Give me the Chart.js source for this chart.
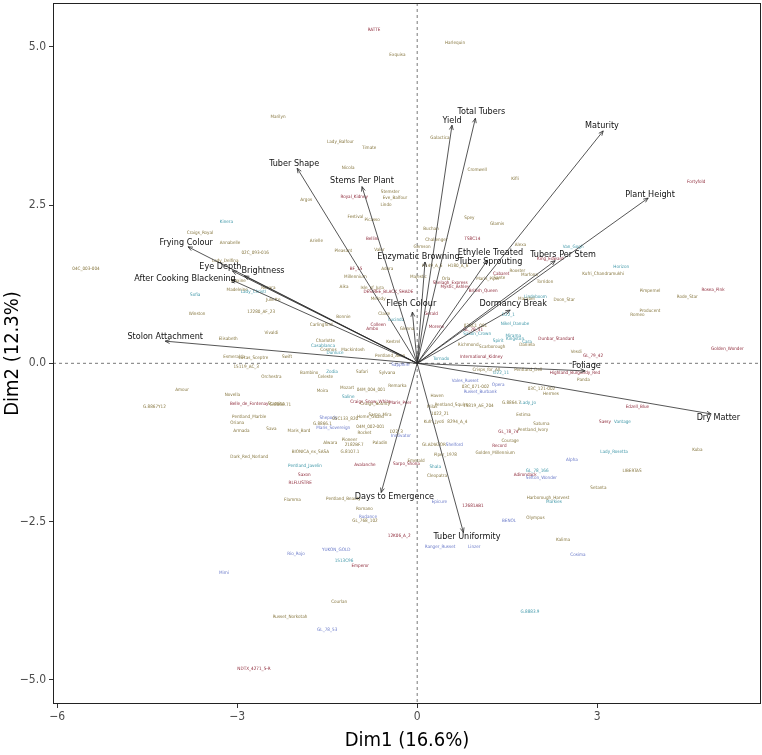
<!DOCTYPE html>
<html>
<head>
<meta charset="utf-8">
<script src="https://cdn.jsdelivr.net/npm/chart.js@4"></script>
<style>
html,body{margin:0;padding:0;background:#fff}
canvas{display:block}
</style>
</head>
<body>
<canvas id="pca" width="762" height="755"></canvas>
<script>
// variable loadings (arrows)
const varNames=['Maturity','Plant Height','Total Tubers','Yield','Tuber Shape','Stems Per Plant','Frying Colour','Eye Depth','Brightness','After Cooking Blackening','Stolon Attachment','Enzymatic Browning','Ethylele Treated\nTuber Sprouting','Tubers Per Stem','Dormancy Break','Flesh Colour','Foliage','Dry Matter','Days to Emergence','Tuber Uniformity'];
const varX=[3.10,3.85,0.97,0.58,-2.00,-0.92,-3.82,-3.08,-2.88,-3.10,-4.20,0.13,1.17,2.30,1.55,-0.08,2.80,4.90,-0.60,0.77];
const varY=[3.67,2.61,3.87,3.76,3.08,2.79,1.84,1.46,1.38,1.32,0.35,1.60,1.63,1.62,0.84,0.81,-0.12,-0.80,-2.04,-2.67];
const varLabelX=[3.08,3.88,1.07,0.58,-2.05,-0.92,-3.85,-3.28,-2.57,-3.87,-4.20,0.02,1.22,2.43,1.60,-0.10,2.82,5.02,-0.38,0.83];
const varLabelY=[3.75,2.67,3.97,3.83,3.16,2.88,1.90,1.52,1.47,1.33,0.42,1.69,1.67,1.72,0.95,0.94,-0.03,-0.86,-2.11,-2.74];

// individuals (varieties): name, Dim1, Dim2, group
const indNames=['RATTE','Harlequin','Exquisa','Marilyn','Lady_Balfour','Timate','Galactica','Cromwell','Nicola','Kifli','Fortyfold','Argos','Royal_Kidney','Stemster','Eve_Balfour','Lindo','Festival','Picasso','Kinera','Spey','Glamis','Buchan','Craigs_Royal','Bellini','TS8C14','Challenger','Arielle','Annabelle','Alexa','Van_Gogh','Gemson','Pleasant','Valor','02C_093-016','King_Edward','Lady_Delfina','04C_003-004','H149_A_6','H180_A_6','Horizon','BF_15','Adora','Rooster','Cabaret','Kufri_Chandramukhi','Marfona','Millennium','Majestic','Sante','Maris_Piper','Orla','Maxine','Torridon','Shelagh_Express','Aika','Mystic_Ashley','Rosara','Isle_of_Jura','Madeleine','Pimpernel','British_Queen','Lady_Christl','DESIREE_BLACK_SHADE','Sofia','Rosea_Pink','Rode_Star','Lindeboom','Doon_Star','Juliette','Melody','Marabel','Producent','Winston','12280_AF_23','Romeo','Claire','Gerald','D22_1','Bonnie','Lucinda','Nikel_Danube','Carlingford','Colleen','03BC1_001','Glenna','Morene','Ambo','GL_78_31','Vivaldi','Saxon_Crown','Mirama','Dunbar_Standard','Elisabeth','Kingston','Charlotte','Spirit','Kestrel','Cara','Richmond','Daniela','Casablanca','Scarborough','Golden_Wonder','Cosmos','Mackintosh','Vesdi','Dunluce','GL_79_42','Pentland_Avon','Swift','International_Kidney','Esmeralda','Lucas_Sceptre','Tornado','Sapphire','15119_AC_3','Pentland_Dell','Crisps_for_All','Safari','Zodia','Bambino','Sylvana','Highland_Burgundy_Red','D22_11','Celeste','Orchestra','Panda','Vales_Russet','Opera','Remarka','03C_071-002','Mozart','03C_121-002','Amour','04M_004_001','Moira','Russet_Burbank','Hermes','Novella','Haven','Saline','Craigs_Snow_White','Maris_Peer','G.8864.7','Lady_Jo','Craigs_Bounty','Belle_de_Fontenay','Stamina','G.8866.71','Pentland_Squire','15819_AE_204','G.8867Y12','Edzell_Blue','Milas','1022_21','Estima','Sarpo_Mira','Pentland_Marble','Home_Guard','Shepody','05C133_820','Kufri_Jyoti','8294_A_4','Sassy','Vantage','Oriana','Saturna','G.8866.1','04M_002-001','Maris_Sovereign','Sava','Pentland_Ivory','Maris_Bard','Armada','D22_3','GL_78_74','Rocket','Innovator','Pioneer','Courage','Alwara','Paladin','2182BF.7','GLADIATOR','Shelford','Record','Kuba','G.8107.1','BIONICA_ex_SASA','Lady_Rosetta','Golden_Millennium','Piper_1978','Dark_Red_Norland','Alpha','Emerald','Sarpo_Shona','Avalanche','Pentland_Javelin','Shala','LIBERTAS','GL_78_166','Adirondack','Saxon','Cleopatra','Sefton_Wonder','RLFLUSTRE','Setanta','Harborough_Harvest','Pentland_Beauty','Flamma','Markies','Epicure','12681AB1','Romano','Olympus','Rudance','BENOL','GL_768_102','12K06_A_2','Kalima','Ranger_Russet','Linzer','YUKON_GOLD','Rio_Rojo','Cosima','1513C96','Emperor','Mimi','Courlan','G.8883.9','Russet_Norkotah','GL_78_53','NDTX_4271_5-R'];
const indX=[-0.72,0.63,-0.33,-2.32,-1.28,-0.80,0.38,1.00,-1.15,1.63,4.65,-1.85,-1.05,-0.45,-0.37,-0.52,-1.03,-0.75,-3.18,0.87,1.33,0.23,-3.62,-0.75,0.92,0.32,-1.68,-3.12,1.72,2.60,0.08,-1.23,-0.63,-2.70,2.22,-3.20,-5.52,0.25,0.68,3.40,-1.02,-0.50,1.67,1.40,3.10,1.87,-1.03,0.02,1.37,1.18,0.48,-2.98,2.13,0.55,-1.22,0.63,-2.48,-0.75,-3.00,3.88,1.10,-2.73,-0.48,-3.70,4.93,4.50,1.97,2.45,-2.40,-0.65,1.82,3.88,-3.67,-2.60,3.67,-0.55,0.23,1.52,-1.23,-0.35,1.63,-1.60,-0.65,0.97,-0.17,0.32,-0.75,0.93,-2.43,1.00,1.60,2.32,-3.15,1.63,-1.53,1.35,-0.40,1.83,0.85,1.83,-1.57,1.25,5.17,-1.48,-1.07,2.65,-1.37,2.93,-0.45,-2.17,1.07,-3.05,-2.73,0.40,-0.28,-2.85,1.85,1.15,-0.92,-1.42,-1.80,-0.50,2.63,1.40,-1.53,-2.43,2.77,0.80,1.35,-0.33,0.97,-1.17,2.07,-3.92,-0.77,-1.58,1.05,2.23,-3.08,0.33,-1.15,-0.78,-0.28,1.57,1.85,-0.70,-2.80,-2.35,-2.28,0.57,1.02,-4.38,3.67,0.25,0.38,1.77,-0.62,-2.80,-0.78,-1.48,-1.20,0.28,0.67,3.13,3.42,-3.00,2.07,-1.58,-0.78,-1.40,-2.43,1.93,-1.97,-2.93,-0.35,1.52,-0.88,-0.27,-1.13,1.55,-1.45,-0.62,-1.05,0.28,0.62,1.37,4.67,-1.12,-1.78,3.28,1.30,0.47,-2.80,2.58,-0.02,-0.18,-0.87,-1.87,0.30,3.58,2.00,1.80,-1.88,0.33,2.07,-1.95,3.02,2.18,-1.23,-2.08,2.28,0.37,0.93,-0.88,1.97,-0.82,1.53,-0.87,-0.30,2.43,0.38,0.95,-1.35,-2.02,2.68,-1.22,-0.95,-3.22,-1.30,1.88,-2.12,-1.50,-2.72];
const indY=[5.27,5.06,4.87,3.89,3.50,3.40,3.56,3.05,3.09,2.91,2.87,2.59,2.63,2.71,2.61,2.50,2.31,2.26,2.23,2.30,2.20,2.12,2.06,1.96,1.96,1.95,1.93,1.90,1.87,1.84,1.84,1.77,1.79,1.74,1.65,1.62,1.50,1.54,1.54,1.52,1.49,1.49,1.46,1.42,1.41,1.39,1.36,1.36,1.35,1.33,1.33,1.31,1.28,1.27,1.21,1.21,1.19,1.19,1.16,1.14,1.14,1.13,1.13,1.08,1.16,1.05,1.05,1.00,1.00,1.02,1.02,0.83,0.78,0.81,0.76,0.78,0.78,0.76,0.73,0.68,0.62,0.61,0.61,0.59,0.54,0.57,0.54,0.53,0.48,0.46,0.43,0.38,0.38,0.38,0.35,0.35,0.34,0.34,0.30,0.29,0.27,0.26,0.23,0.21,0.21,0.18,0.16,0.12,0.12,0.10,0.10,0.10,0.08,0.07,-0.03,-0.06,-0.10,-0.10,-0.14,-0.14,-0.15,-0.15,-0.15,-0.15,-0.22,-0.22,-0.26,-0.28,-0.34,-0.36,-0.37,-0.39,-0.41,-0.42,-0.42,-0.44,-0.45,-0.48,-0.50,-0.52,-0.53,-0.60,-0.63,-0.63,-0.63,-0.64,-0.64,-0.64,-0.66,-0.66,-0.67,-0.69,-0.69,-0.69,-0.79,-0.82,-0.82,-0.85,-0.85,-0.86,-0.88,-0.93,-0.93,-0.93,-0.93,-0.94,-0.95,-0.96,-1.01,-1.02,-1.04,-1.05,-1.07,-1.07,-1.08,-1.08,-1.10,-1.15,-1.21,-1.23,-1.26,-1.26,-1.29,-1.29,-1.29,-1.31,-1.36,-1.39,-1.40,-1.40,-1.42,-1.45,-1.48,-1.53,-1.54,-1.59,-1.61,-1.62,-1.64,-1.69,-1.70,-1.76,-1.76,-1.78,-1.81,-1.89,-1.97,-2.13,-2.14,-2.16,-2.19,-2.19,-2.25,-2.29,-2.44,-2.43,-2.49,-2.49,-2.73,-2.79,-2.89,-2.89,-2.95,-3.01,-3.03,-3.12,-3.20,-3.31,-3.77,-3.93,-4.01,-4.21,-4.83];
const indGroup=['r','o','o','o','o','o','o','o','o','o','r','o','r','o','o','o','o','o','t','o','o','o','o','r','r','o','o','o','o','t','o','o','o','o','r','o','o','o','o','t','r','o','o','r','o','o','o','o','o','o','o','o','o','r','o','r','o','o','o','o','r','t','r','t','r','o','t','o','o','o','o','o','o','o','o','o','r','t','o','t','t','o','r','o','o','r','r','r','o','t','t','r','o','t','o','t','o','t','o','o','t','o','r','o','o','o','t','r','o','o','r','o','o','t','b','o','o','o','o','t','o','o','r','t','o','o','o','b','b','o','o','o','o','o','o','o','b','o','o','o','t','r','r','o','t','o','r','o','o','o','o','o','r','o','o','o','o','o','o','b','o','o','o','r','t','o','o','o','o','b','o','o','o','o','o','r','o','b','o','o','o','o','o','o','b','r','o','o','o','t','o','o','o','b','o','r','r','t','t','o','t','r','r','o','b','r','o','o','o','o','t','b','r','o','o','b','b','o','r','o','b','b','b','b','b','t','r','b','o','t','o','b','r','b'];

const xTicks=[-6,-3,0,3];
const yTicks=[-5,-2.5,0,2.5,5];

const groupColor={o:'#86763f',r:'#8e2a3a',b:'#6878c8',t:'#3f97a8'};
const NARROW="'DejaVu Sans Condensed','Liberation Sans Narrow',sans-serif";

const biplotLayer={
  id:'biplotLayer',
  beforeDatasetsDraw(chart){
    const {ctx,chartArea:a,scales:{x,y}}=chart;
    const x0=x.getPixelForValue(0), y0=y.getPixelForValue(0);
    ctx.save();
    ctx.strokeStyle='#555';ctx.lineWidth=0.8;ctx.setLineDash([3,3]);
    ctx.beginPath();
    ctx.moveTo(x0,a.top);ctx.lineTo(x0,a.bottom);
    ctx.moveTo(a.left,y0);ctx.lineTo(a.right,y0);
    ctx.stroke();
    ctx.setLineDash([]);
    ctx.font='4.6px '+NARROW;
    ctx.textAlign='center';ctx.textBaseline='middle';
    indNames.forEach((n,i)=>{
      ctx.fillStyle=groupColor[indGroup[i]];
      ctx.fillText(n,x.getPixelForValue(indX[i]),y.getPixelForValue(indY[i]));
    });
    ctx.restore();
  },
  afterDatasetsDraw(chart){
    const {ctx,chartArea:a,scales:{x,y}}=chart;
    const x0=x.getPixelForValue(0), y0=y.getPixelForValue(0);
    ctx.save();
    ctx.strokeStyle='#2b2b2b';ctx.lineWidth=0.8;
    varNames.forEach((n,i)=>{
      const px=x.getPixelForValue(varX[i]), py=y.getPixelForValue(varY[i]);
      const ang=Math.atan2(py-y0,px-x0);
      ctx.beginPath();
      ctx.moveTo(px-5*Math.cos(ang-0.4),py-5*Math.sin(ang-0.4));
      ctx.lineTo(px,py);
      ctx.lineTo(px-5*Math.cos(ang+0.4),py-5*Math.sin(ang+0.4));
      ctx.stroke();
    });
    ctx.fillStyle='#111';
    ctx.font='9px '+NARROW;
    ctx.textAlign='center';ctx.textBaseline='middle';
    varNames.forEach((n,i)=>{
      const lx=x.getPixelForValue(varLabelX[i]), ly=y.getPixelForValue(varLabelY[i]);
      const lines=n.split('\n');
      lines.forEach((t,k)=>ctx.fillText(t,lx,ly+(k-(lines.length-1)/2)*9));
    });
    ctx.strokeStyle='#222';ctx.lineWidth=1;
    ctx.strokeRect(a.left+0.5,a.top+0.5,a.right-a.left-1,a.bottom-a.top-1);
    ctx.restore();
  }
};

const arrowSets=varNames.map((n,i)=>({
  data:[{x:0,y:0},{x:varX[i],y:varY[i]}],
  showLine:true,borderColor:'#2b2b2b',borderWidth:0.8,pointRadius:0
}));
const pointSet={data:indNames.map((n,i)=>({x:indX[i],y:indY[i]})),pointRadius:0,showLine:false};

new Chart(document.getElementById('pca'),{
  type:'scatter',
  data:{datasets:[pointSet,...arrowSets]},
  options:{
    responsive:false,animation:false,devicePixelRatio:1,
    layout:{padding:{top:3,right:1,left:0,bottom:0}},
    plugins:{legend:{display:false},tooltip:{enabled:false}},
    scales:{
      x:{
        type:'linear',min:-6.07,max:5.73,
        afterBuildTicks:s=>{s.ticks=xTicks.map(v=>({value:v}));},
        afterFit:s=>{s.height=51;s.paddingLeft=0;s.paddingRight=0;},
        ticks:{color:'#4d4d4d',font:{family:NARROW,size:12},padding:2,callback:v=>String(v).replace('-','\u2212')},
        grid:{drawOnChartArea:false,drawTicks:true,tickLength:4,tickColor:'#333'},
        border:{display:false},
        title:{display:true,text:'Dim1 (16.6%)',color:'#000',font:{family:NARROW,size:20},padding:{top:0,bottom:2}}
      },
      y:{
        type:'linear',min:-5.38,max:5.69,
        afterBuildTicks:s=>{s.ticks=yTicks.map(v=>({value:v}));},
        afterFit:s=>{s.width=53;s.paddingTop=0;s.paddingBottom=0;},
        ticks:{color:'#4d4d4d',font:{family:NARROW,size:12},padding:3,callback:v=>v.toFixed(1).replace('-','\u2212')},
        grid:{drawOnChartArea:false,drawTicks:true,tickLength:4,tickColor:'#333'},
        border:{display:false},
        title:{display:true,text:'Dim2 (12.3%)',color:'#000',font:{family:NARROW,size:20},padding:{top:1,bottom:0}}
      }
    }
  },
  plugins:[biplotLayer]
});
</script>
</body>
</html>
